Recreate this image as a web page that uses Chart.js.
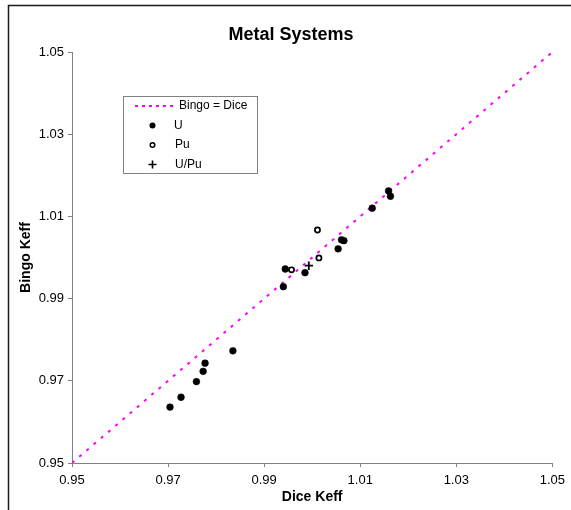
<!DOCTYPE html>
<html>
<head>
<meta charset="utf-8">
<script src="https://cdn.jsdelivr.net/npm/chart.js@4.4.1/dist/chart.umd.min.js"></script>
<style>
  html, body { margin: 0; padding: 0; background: #fff; }
  #wrap { width: 571px; height: 510px; }
</style>
</head>
<body>
<div id="wrap"><canvas id="chart" width="571" height="510"></canvas></div>
<script>
// values
const diceU  = [1.0159, 1.0163, 1.0125, 1.0061, 1.0066, 1.0054, 0.9944, 0.9985, 0.9940, 0.9835, 0.9777, 0.9773, 0.9759, 0.9727, 0.9704]
const bingoU = [1.0162, 1.0149, 1.0120, 1.0043, 1.0041, 1.0021, 0.9972, 0.9963, 0.9929, 0.9773, 0.9743, 0.9723, 0.9698, 0.9660, 0.9636]
const dicePu  = [1.0011, 1.0014, 0.9957]
const bingoPu = [1.0067, 0.9999, 0.9970]
const diceUPu  = [0.9993]
const bingoUPu = [0.9980]
const lineDice  = [0.95, 1.05]
const lineBingo = [0.95, 1.05]
const xTicks = [0.95, 0.97, 0.99, 1.01, 1.03, 1.05]
const yTicks = [0.95, 0.97, 0.99, 1.01, 1.03, 1.05]

const pts = (xs, ys) => xs.map((x, i) => ({ x, y: ys[i] }))
const FONT = 'Arial, "Liberation Sans", sans-serif'

// frame, title and the floating legend
const decor = {
  id: 'decor',
  beforeDraw(chart) {
    const ctx = chart.ctx
    ctx.save()
    ctx.strokeStyle = '#1a1a1a'
    ctx.lineWidth = 1.5
    ctx.strokeRect(8.5, 5.5, 600, 600)
    ctx.restore()
  },
  afterDraw(chart) {
    const ctx = chart.ctx
    ctx.save()
    ctx.fillStyle = '#000'
    ctx.font = 'bold 18px ' + FONT
    ctx.textAlign = 'center'
    ctx.textBaseline = 'middle'
    ctx.fillText('Metal Systems', 291, 35)

    // legend box
    ctx.fillStyle = '#fff'
    ctx.fillRect(123, 96, 134, 77)
    ctx.strokeStyle = '#808080'
    ctx.lineWidth = 1
    ctx.strokeRect(123.5, 96.5, 134, 77)

    const ds = chart.data.datasets
    ctx.font = '12px ' + FONT
    ctx.textAlign = 'left'
    ctx.fillStyle = '#000'

    // Bingo = Dice
    ctx.strokeStyle = ds[0].borderColor
    ctx.lineWidth = 2
    ctx.setLineDash([3, 4])
    ctx.beginPath(); ctx.moveTo(135, 106); ctx.lineTo(177, 106); ctx.stroke()
    ctx.setLineDash([])
    ctx.fillText(ds[0].label, 179, 106)

    // U
    ctx.beginPath(); ctx.arc(152.5, 125.5, 3, 0, Math.PI * 2); ctx.fill()
    ctx.fillText(ds[1].label, 174, 125.5)

    // Pu
    ctx.strokeStyle = '#000'
    ctx.lineWidth = 1.5
    ctx.beginPath(); ctx.arc(152.5, 145, 2.3, 0, Math.PI * 2); ctx.stroke()
    ctx.fillText(ds[2].label, 175, 145)

    // U/Pu
    ctx.lineWidth = 1.6
    ctx.beginPath()
    ctx.moveTo(148.5, 164.5); ctx.lineTo(156.5, 164.5)
    ctx.moveTo(152.5, 160.5); ctx.lineTo(152.5, 168.5)
    ctx.stroke()
    ctx.fillText(ds[3].label, 175, 164.5)
    ctx.restore()
  }
}

const axisCommon = {
  type: 'linear',
  min: 0.95,
  max: 1.05,
  grid: { drawOnChartArea: false, drawTicks: true, tickLength: 4, color: '#808080' },
  border: { color: '#808080', width: 1 }
}

new Chart(document.getElementById('chart'), {
  type: 'scatter',
  data: {
    datasets: [
      {
        label: 'Bingo = Dice',
        data: pts(lineDice, lineBingo),
        showLine: true,
        borderColor: '#ff00ff',
        borderWidth: 2,
        borderDash: [3, 6.5],
        pointRadius: 0,
        order: 5
      },
      {
        label: 'U',
        data: pts(diceU, bingoU),
        pointStyle: 'circle',
        pointRadius: 3.4,
        pointBackgroundColor: '#000',
        pointBorderColor: '#000',
        pointBorderWidth: 0.5
      },
      {
        label: 'Pu',
        data: pts(dicePu, bingoPu),
        pointStyle: 'circle',
        pointRadius: 2.6,
        pointBackgroundColor: '#fff',
        pointBorderColor: '#000',
        pointBorderWidth: 1.7
      },
      {
        label: 'U/Pu',
        data: pts(diceUPu, bingoUPu),
        pointStyle: 'cross',
        pointRadius: 4.2,
        pointBorderColor: '#000',
        pointBorderWidth: 1.8
      }
    ]
  },
  options: {
    responsive: false,
    animation: false,
    layout: { padding: { left: 0, top: 52, right: 15, bottom: 0 } },
    plugins: { legend: { display: false }, tooltip: { enabled: false }, title: { display: false } },
    scales: {
      x: {
        ...axisCommon,
        position: 'bottom',
        afterBuildTicks: s => { s.ticks = xTicks.map(v => ({ value: v })) },
        afterFit: s => { s.height = 47 },
        ticks: { callback: v => v.toFixed(2), color: '#000', font: { family: FONT, size: 13 }, padding: 6, maxRotation: 0 },
        title: { display: true, text: 'Dice Keff', color: '#000', font: { family: FONT, size: 14, weight: 'bold' }, padding: { top: 0, bottom: 4 } }
      },
      y: {
        ...axisCommon,
        position: 'left',
        afterBuildTicks: s => { s.ticks = yTicks.map(v => ({ value: v })) },
        afterFit: s => { s.width = 72 },
        ticks: { callback: v => v.toFixed(2), color: '#000', font: { family: FONT, size: 13 }, padding: 4 },
        title: { display: true, text: 'Bingo Keff', color: '#000', font: { family: FONT, size: 14, weight: 'bold' }, padding: { top: 18, bottom: 0 } }
      }
    }
  },
  plugins: [decor]
})
</script>
</body>
</html>
